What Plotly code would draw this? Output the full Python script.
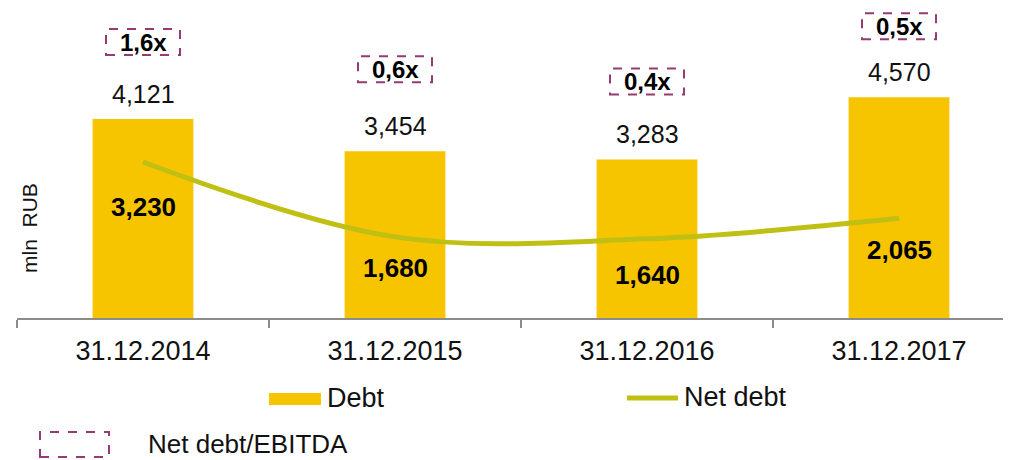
import plotly.graph_objects as go

categories = ["31.12.2014", "31.12.2015", "31.12.2016", "31.12.2017"]
debt = [4121, 3454, 3283, 4570]
net_debt = [3230, 1680, 1640, 2065]
ratio_labels = ["1,6x", "0,6x", "0,4x", "0,5x"]

# styling offsets (pixels)
net_label_shift = [-45, -31, -36, -32]
ratio_box_shift = [77, 82, 78, 71]

OFF = 8  # page body margin
W, H = 1011 - OFF, 460 - OFF
ML, MT, MB = 17 - OFF, 0, 142
PW, PH = W - ML, H - MT - MB

YELLOW = "#F7C400"
OLIVE = "#BFC013"
PURPLE = "#953A72"
GREY = "#8C8C8C"
FONT = "Liberation Sans, Arial, Helvetica, sans-serif"


def px(X):
    return (X - OFF - ML) / PW


def py(Y):
    return (PH + MT - (Y - OFF)) / PH


fig = go.Figure()
fig.add_trace(go.Bar(x=categories, y=debt, width=0.4, marker=dict(color=YELLOW, line=dict(width=0)),
                     name="Debt", showlegend=False))
fig.add_trace(go.Scatter(x=categories, y=net_debt, mode="lines", line=dict(color=OLIVE, width=5, shape="spline", smoothing=1),
                         name="Net debt", showlegend=False))

annotations = []
shapes = []
for c, d, n, r, ns, rs in zip(categories, debt, net_debt, ratio_labels, net_label_shift, ratio_box_shift):
    annotations.append(dict(x=c, y=d, xref="x", yref="y", text=f"{d:,}", showarrow=False, yshift=25,
                            yanchor="middle", font=dict(family=FONT, size=25, color="#111")))
    annotations.append(dict(x=c, y=n, xref="x", yref="y", text=f"<b>{n:,}</b>", showarrow=False, yshift=ns,
                            yanchor="middle", font=dict(family=FONT, size=26, color="#000")))
    annotations.append(dict(x=c, y=d, xref="x", yref="y", text=f"<b>{r}</b>", showarrow=False, yshift=rs,
                            yanchor="middle", font=dict(family=FONT, size=24, color="#000")))
    shapes.append(dict(type="rect", xref="x", yref="y", xsizemode="pixel", ysizemode="pixel",
                       xanchor=c, yanchor=d, x0=-37, x1=37, y0=rs - 13, y1=rs + 13,
                       line=dict(color=PURPLE, width=2, dash="dash"), fillcolor="rgba(0,0,0,0)"))

# y axis title
annotations.append(dict(x=px(29), y=py(228), xref="paper", yref="paper", text="mln  RUB", textangle=-90,
                        xanchor="center", yanchor="middle",
                        showarrow=False, font=dict(family=FONT, size=21, color="#111")))

# manual legend
shapes.append(dict(type="rect", xref="paper", yref="paper", x0=px(269), x1=px(321), y0=py(405), y1=py(393),
                   fillcolor=YELLOW, line=dict(width=0)))
annotations.append(dict(x=px(325), y=py(398), xref="paper", yref="paper", text="Debt", showarrow=False,
                        xanchor="left", yanchor="middle", font=dict(family=FONT, size=27, color="#111")))
shapes.append(dict(type="line", xref="paper", yref="paper", x0=px(627), x1=px(678), y0=py(398), y1=py(398),
                   line=dict(color=OLIVE, width=5)))
annotations.append(dict(x=px(682), y=py(397), xref="paper", yref="paper", text="Net debt", showarrow=False,
                        xanchor="left", yanchor="middle", font=dict(family=FONT, size=27, color="#111")))
shapes.append(dict(type="rect", xref="paper", yref="paper", x0=px(40), x1=px(109), y0=py(457), y1=py(432),
                   line=dict(color=PURPLE, width=2, dash="dash"), fillcolor="rgba(0,0,0,0)"))
annotations.append(dict(x=px(146), y=py(444), xref="paper", yref="paper", text="Net debt/EBITDA", showarrow=False,
                        xanchor="left", yanchor="middle", font=dict(family=FONT, size=26, color="#111")))

fig.update_layout(
    width=W, height=H,
    margin=dict(l=ML, r=0, t=MT, b=MB, pad=0),
    plot_bgcolor="white", paper_bgcolor="white",
    showlegend=False,
    xaxis=dict(type="category", range=[-0.5, 3.5 - 14 / 252], tickson="boundaries", ticks="outside", ticklen=8,
               tickcolor=GREY, tickwidth=1.5, showline=True, linecolor=GREY, linewidth=1.5, showgrid=False,
               ticklabelstandoff=8, tickfont=dict(family=FONT, size=27, color="#111")),
    yaxis=dict(range=[0, PH / 0.04829], visible=False, showgrid=False, zeroline=False),
    annotations=annotations, shapes=shapes,
)

fig.write_html("out.html")
